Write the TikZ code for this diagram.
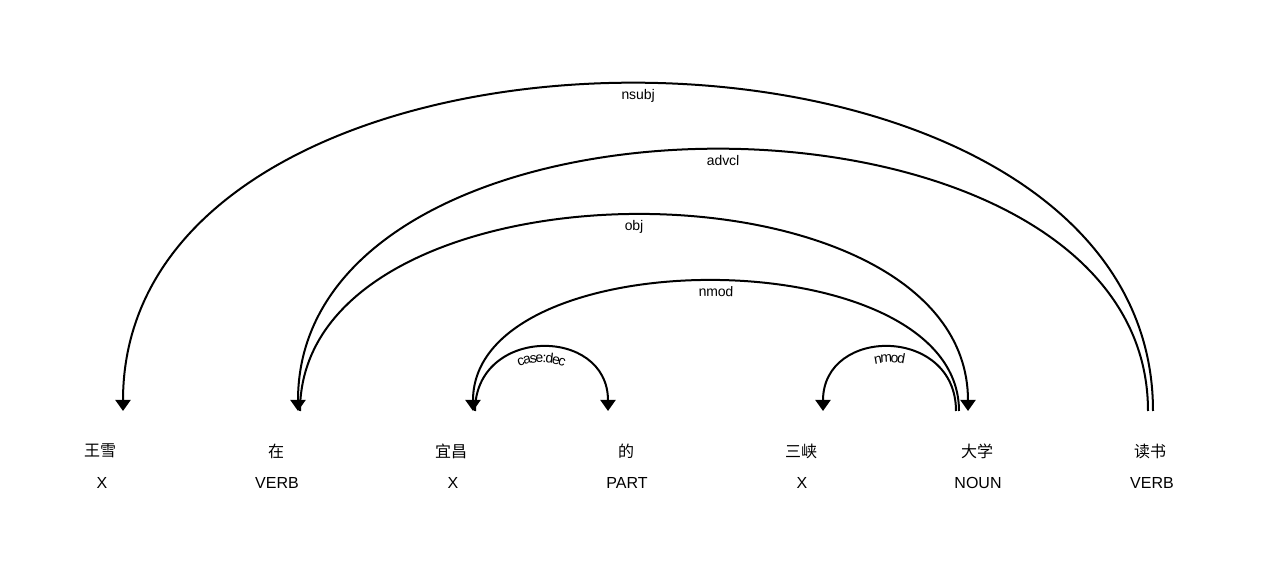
\documentclass[tikz,border=0pt]{standalone}
\usepackage{fontspec}
\setmainfont{Liberation Sans}
\newfontfamily\cjkfont{Noto Sans CJK SC}
\usetikzlibrary{arrows.meta}
\usetikzlibrary{decorations.text}
\newcommand{\labelfont}{\fontsize{10.5}{12}\selectfont}

\begin{document}
\begin{tikzpicture}[x=0.75pt, y=-0.75pt,
        word/.style={font=\cjkfont\fontsize{12}{14}\selectfont},
        tag/.style={font=\fontsize{12}{14}\selectfont},
        deparc/.style={line width=1.5pt, >={Triangle[width=11.25pt, length=8.25pt]}},
        deplabel/.style={decorate, decoration={text along path, text align=center,
            raise=-11.5pt, text={|\labelfont|#1}}}]

        \useasboundingbox (0,0) rectangle (1283,570);

        % Words
        \node[word] (w-wang) at (100,451) {王雪};
        \node[word] (w-zai)  at (276,451) {在};
        \node[word] (w-yi)   at (451,451) {宜昌};
        \node[word] (w-de)   at (626,451) {的};
        \node[word] (w-san)  at (801,451) {三峡};
        \node[word] (w-da)   at (977,451) {大学};
        \node[word] (w-du)   at (1150,451) {读书};

        % Tags
        \node[tag] (t-wang) at (102,483) {X};
        \node[tag] (t-zai)  at (277,483) {VERB};
        \node[tag] (t-yi)   at (453,483) {X};
        \node[tag] (t-de)   at (627,483) {PART};
        \node[tag] (t-san)  at (802,483) {X};
        \node[tag] (t-da)   at (978,483) {NOUN};
        \node[tag] (t-du)   at (1152,483) {VERB};

        % Arc ends above the words
        \coordinate (wang-a) at (123,411);
        \coordinate (zai-a)  at (298,411);
        \coordinate (zai-b)  at (300,411);
        \coordinate (yi-a)   at (473,411);
        \coordinate (yi-b)   at (475,411);
        \coordinate (de-a)   at (608,411);
        \coordinate (san-a)  at (823,411);
        \coordinate (da-a)   at (968,411);
        \coordinate (da-b)   at (959,411);
        \coordinate (da-c)   at (956,411);
        \coordinate (du-a)   at (1148,411);
        \coordinate (du-b)   at (1153,411);

        % nsubj
        \draw[deparc, <-] (wang-a) .. controls +(0,-436) and +(0,-436) .. (du-b);
        \path[deplabel=nsubj] (wang-a) .. controls +(0,-436) and +(0,-436) .. (du-b);

        % advcl
        \draw[deparc, <-] (zai-a) .. controls +(0,-348) and +(0,-348) .. (du-a);
        \path[deplabel=advcl] (zai-a) .. controls +(0,-348) and +(0,-348) .. (du-a);

        % obj
        \draw[deparc, ->] (zai-b) .. controls +(0,-261) and +(0,-261) .. (da-a);
        \path[deplabel=obj] (zai-b) .. controls +(0,-261) and +(0,-261) .. (da-a);

        % nmod
        \draw[deparc, <-] (yi-a) .. controls +(0,-173) and +(0,-173) .. (da-b);
        \path[deplabel=nmod] (yi-a) .. controls +(0,-173) and +(0,-173) .. (da-b);

        % case:dec
        \draw[deparc, ->] (yi-b) .. controls +(0,-85) and +(0,-85) .. (de-a);
        \path[deplabel=case:dec] (yi-b) .. controls +(0,-85) and +(0,-85) .. (de-a);

        % nmod (short)
        \draw[deparc, <-] (san-a) .. controls +(0,-85) and +(0,-85) .. (da-c);
        \path[deplabel=nmod] (san-a) .. controls +(0,-85) and +(0,-85) .. (da-c);

    \end{tikzpicture}
\end{document}
